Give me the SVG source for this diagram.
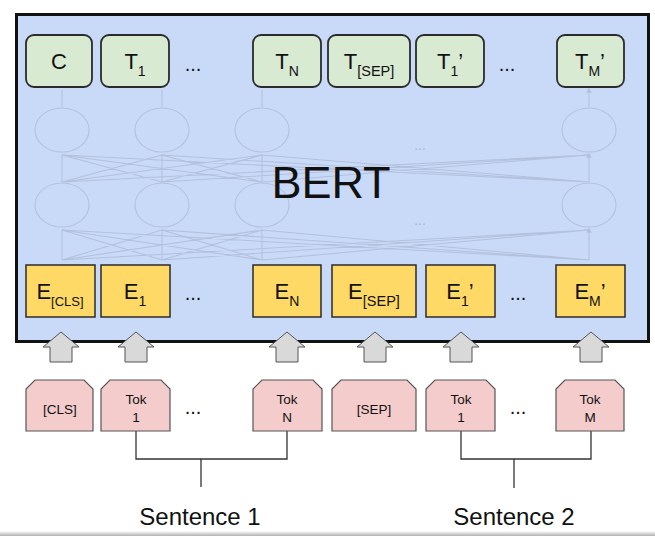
<svg xmlns="http://www.w3.org/2000/svg" width="655" height="536" viewBox="0 0 655 536">
<defs>
<style>
text{font-family:"Liberation Sans",Arial,sans-serif;fill:#111}
.bert{fill:#c9daf8;stroke:#111;stroke-width:3}
.t{fill:#d9ead3;stroke:#2b2b2b;stroke-width:1.8}
.e{fill:#ffd966;stroke:#2b2b2b;stroke-width:1.5}
.tok{fill:#f4cccc;stroke:#555;stroke-width:1.2}
.up{fill:#d9d9d9;stroke:#555;stroke-width:1}
.net{stroke:#b3c1dc;stroke-width:1.1;fill:none}
.br{stroke:#333;stroke-width:1.3;fill:none}
.lbl{font-size:22px;text-anchor:middle}
.tk{font-size:13.5px;text-anchor:middle}
.dots{font-size:20px;text-anchor:middle}
.fd{font-size:14px;text-anchor:middle;fill:#a9b6d0}
</style>
<marker id="ah" viewBox="0 0 6 6" refX="3" refY="3" markerWidth="5" markerHeight="5" orient="auto"><path d="M0,0 L6,3 L0,6 z" fill="#b3c1dc"/></marker>
<linearGradient id="sh" x1="0" y1="0" x2="0" y2="1"><stop offset="0" stop-color="#fff"/><stop offset="1" stop-color="#b0b0b0"/></linearGradient>
</defs>
<rect width="655" height="536" fill="#fff"/>
<rect x="0" y="531" width="655" height="5" fill="url(#sh)"/>

<g id="bert">
<rect class="bert" x="16.5" y="14.5" width="632" height="327"/>
<g id="network">
<g class="net">
<ellipse cx="62" cy="130" rx="27" ry="22"/><ellipse cx="162" cy="130" rx="27" ry="22"/><ellipse cx="262" cy="130" rx="27" ry="22"/><ellipse cx="589" cy="130" rx="27" ry="22"/>
<ellipse cx="62" cy="205" rx="27" ry="22"/><ellipse cx="162" cy="205" rx="27" ry="22"/><ellipse cx="262" cy="205" rx="27" ry="22"/><ellipse cx="589" cy="205" rx="27" ry="22"/>
<path d="M62,107V90 M162,107V90 M262,107V90 M589,107V90" marker-end="url(#ah)"/>
<path d="M62,182V155 M162,182V155 M262,182V155 M589,182V155" marker-end="url(#ah)"/>
<path d="M62,260V230 M162,260V230 M262,260V230 M589,260V230" marker-end="url(#ah)"/>
<path d="M62,182L162,155 M62,182L262,155 M62,182L589,155 M162,182L62,155 M162,182L262,155 M162,182L589,155 M262,182L62,155 M262,182L162,155 M262,182L589,155 M589,182L62,155 M589,182L162,155 M589,182L262,155"/>
<path d="M62,260L162,230 M62,260L262,230 M62,260L589,230 M162,260L62,230 M162,260L262,230 M162,260L589,230 M262,260L62,230 M262,260L162,230 M262,260L589,230 M589,260L62,230 M589,260L162,230 M589,260L262,230"/>
</g>
<text class="fd" x="420" y="150">...</text>
<text class="fd" x="420" y="225">...</text>
</g>
<text x="331" y="198" style="font-size:45px;text-anchor:middle">BERT</text>
</g>

<g id="outputs">
<g id="out-c"><rect class="t" x="26" y="35" width="66" height="52" rx="8"/><text class="lbl" x="59" y="69">C</text></g>
<g id="out-t1"><rect class="t" x="101" y="35" width="68" height="52" rx="8"/><text class="lbl" x="135" y="69">T<tspan font-size="14" dy="7">1</tspan></text></g>
<text class="dots" x="193" y="71">...</text>
<g id="out-tn"><rect class="t" x="253" y="35" width="68" height="52" rx="8"/><text class="lbl" x="287" y="69">T<tspan font-size="14" dy="7">N</tspan></text></g>
<g id="out-tsep"><rect class="t" x="328" y="35" width="82" height="52" rx="8"/><text class="lbl" x="369" y="69">T<tspan font-size="14.5" dy="7">[SEP]</tspan></text></g>
<g id="out-t1p"><rect class="t" x="416" y="35" width="68" height="52" rx="8"/><text class="lbl" x="450" y="69">T<tspan font-size="14" dy="7">1</tspan><tspan dy="-7">’</tspan></text></g>
<text class="dots" x="507" y="71">...</text>
<g id="out-tm"><rect class="t" x="557" y="35" width="67" height="52" rx="8"/><text class="lbl" x="590" y="69">T<tspan font-size="14" dy="7">M</tspan><tspan dy="-7">’</tspan></text></g>
</g>

<g id="embeddings">
<g id="emb-cls"><rect class="e" x="26" y="265" width="69" height="52"/><text class="lbl" x="60" y="299">E<tspan font-size="13" dy="7">[CLS]</tspan></text></g>
<g id="emb-1"><rect class="e" x="101" y="265" width="69" height="52"/><text class="lbl" x="135" y="299">E<tspan font-size="14" dy="7">1</tspan></text></g>
<text class="dots" x="193" y="300">...</text>
<g id="emb-n"><rect class="e" x="253" y="265" width="68" height="52"/><text class="lbl" x="287" y="299">E<tspan font-size="14" dy="7">N</tspan></text></g>
<g id="emb-sep"><rect class="e" x="332" y="265" width="84" height="52"/><text class="lbl" x="374" y="299">E<tspan font-size="14.5" dy="7">[SEP]</tspan></text></g>
<g id="emb-1p"><rect class="e" x="426" y="265" width="69" height="52"/><text class="lbl" x="460" y="299">E<tspan font-size="14" dy="7">1</tspan><tspan dy="-7">’</tspan></text></g>
<text class="dots" x="518" y="300">...</text>
<g id="emb-m"><rect class="e" x="556" y="265" width="69" height="52"/><text class="lbl" x="590" y="299">E<tspan font-size="14" dy="7">M</tspan><tspan dy="-7">’</tspan></text></g>
</g>

<g id="connectors">
<path class="up" d="M61,332 L79,347 L72,347 L72,362 L50,362 L50,347 L43,347 Z"/>
<path class="up" d="M136,332 L154,347 L147,347 L147,362 L125,362 L125,347 L118,347 Z"/>
<path class="up" d="M287,332 L305,347 L298,347 L298,362 L276,362 L276,347 L269,347 Z"/>
<path class="up" d="M375,332 L393,347 L386,347 L386,362 L364,362 L364,347 L357,347 Z"/>
<path class="up" d="M461,332 L479,347 L472,347 L472,362 L450,362 L450,347 L443,347 Z"/>
<path class="up" d="M591,332 L609,347 L602,347 L602,362 L580,362 L580,347 L573,347 Z"/>
<path class="br" d="M136,431V459H287V431 M201,459V487"/>
<path class="br" d="M461,431V459H591V431 M514,459V488"/>
</g>

<g id="tokens">
<g id="tok-cls"><path class="tok" d="M26,431V389L35,380H84L93,389V431Z"/><text class="tk" x="60" y="414">[CLS]</text></g>
<g id="tok-1"><path class="tok" d="M101,431V389L110,380H161L170,389V431Z"/><text class="tk" x="136" y="404">Tok</text><text class="tk" x="136" y="422">1</text></g>
<text class="dots" x="193" y="414">...</text>
<g id="tok-n"><path class="tok" d="M253,431V389L262,380H313L322,389V431Z"/><text class="tk" x="287" y="404">Tok</text><text class="tk" x="287" y="422">N</text></g>
<g id="tok-sep"><path class="tok" d="M332,431V389L341,380H407L416,389V431Z"/><text class="tk" x="374" y="414">[SEP]</text></g>
<g id="tok-1p"><path class="tok" d="M426,431V389L435,380H486L495,389V431Z"/><text class="tk" x="461" y="404">Tok</text><text class="tk" x="461" y="422">1</text></g>
<text class="dots" x="518" y="414">...</text>
<g id="tok-m"><path class="tok" d="M556,431V389L565,380H615L624,389V431Z"/><text class="tk" x="590" y="404">Tok</text><text class="tk" x="590" y="422">M</text></g>
</g>

<g id="sentences">
<text x="200" y="525" style="font-size:24px;text-anchor:middle">Sentence 1</text>
<text x="514" y="525" style="font-size:24px;text-anchor:middle">Sentence 2</text>
</g>
</svg>
